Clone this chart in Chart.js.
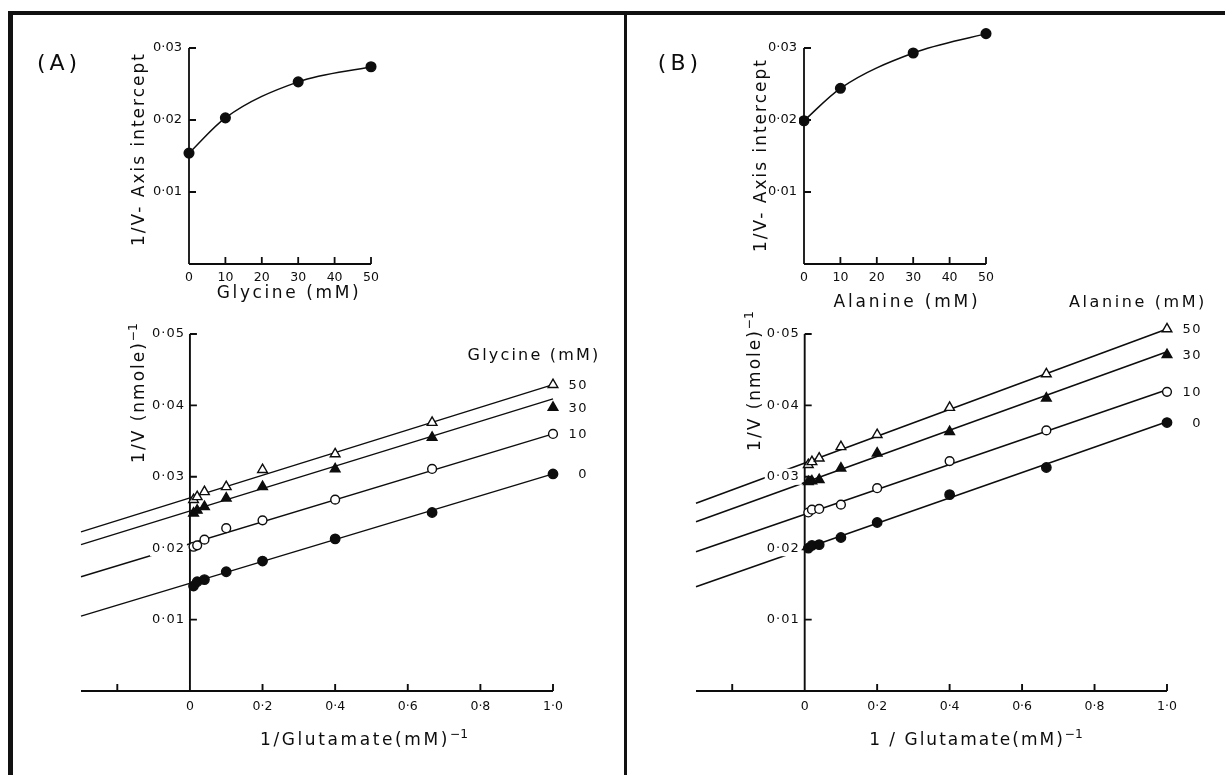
<!DOCTYPE html>
<html lang="en">
<head>
<meta charset="UTF-8">
<title>Glutamate kinetics with glycine and alanine</title>
<script src="https://cdn.jsdelivr.net/npm/chart.js"></script>
<style>
  body { margin: 0; background: #fff; }
  #page { position: relative; width: 1225px; height: 775px; overflow: hidden; background: #fff; }
  canvas { position: absolute; left: 0; top: 0; }
  .rule { position: absolute; background: #111; }
  .t { position: absolute; white-space: nowrap; transform: translate(-50%, -50%); font-family: "DejaVu Sans", sans-serif; color: #0d0d0d; line-height: 1; }
  .rot { transform: translate(-50%, -50%) rotate(-90deg); }
  sup { font-size: 0.72em; vertical-align: 0.6em; letter-spacing: 0; }
</style>
</head>
<body>
<div id="page">
  <!-- frame -->
  <div class="rule" style="left:8px; top:11px; width:1217px; height:4px;"></div>
  <div class="rule" style="left:8px; top:11px; width:5px; height:764px;"></div>
  <div class="rule" style="left:624px; top:11px; width:3px; height:764px;"></div>

  <canvas id="insetA" width="1225" height="775"></canvas>
  <canvas id="mainA" width="1225" height="775"></canvas>
  <canvas id="insetB" width="1225" height="775"></canvas>
  <canvas id="mainB" width="1225" height="775"></canvas>

  <!-- panel A text -->
  <div class="t" style="left:59px; top:63px; font-size:22px; letter-spacing:4px;">(A)</div>
  <div class="t rot" style="left:138px; top:149px; font-size:17px; letter-spacing:2px;">1/V- Axis intercept</div>
  <div class="t" style="left:289px; top:292px; font-size:17px; letter-spacing:2.6px;">Glycine (mM)</div>
  <div class="t rot" style="left:137px; top:393px; font-size:17px; letter-spacing:2px;">1/V (nmole)<sup>−1</sup></div>
  <div class="t" style="left:534px; top:355px; font-size:16px; letter-spacing:2.2px;">Glycine (mM)</div>
  <div class="t" style="left:364px; top:738px; font-size:17px; letter-spacing:2.6px;">1/Glutamate(mM)<sup>−1</sup></div>

  <!-- panel B text -->
  <div class="t" style="left:680px; top:63px; font-size:22px; letter-spacing:4px;">(B)</div>
  <div class="t rot" style="left:760px; top:155px; font-size:17px; letter-spacing:2px;">1/V- Axis intercept</div>
  <div class="t" style="left:907px; top:301px; font-size:17px; letter-spacing:2.8px;">Alanine (mM)</div>
  <div class="t rot" style="left:753px; top:381px; font-size:17px; letter-spacing:2px;">1/V (nmole)<sup>−1</sup></div>
  <div class="t" style="left:1138px; top:302px; font-size:16px; letter-spacing:2.6px;">Alanine (mM)</div>
  <div class="t" style="left:976px; top:738px; font-size:17px; letter-spacing:2px;">1 / Glutamate(mM)<sup>−1</sup></div>
</div>

<script>
// 1/[glutamate] values, shared by both panels
const invGlu = [0.01, 0.02, 0.04, 0.1, 0.2, 0.4, 0.667, 1.0];
const inhibitorMM = ['0', '10', '30', '50'];

// panel A: glycine, 1/V values
const glyA0  = [0.0147, 0.0153, 0.0156, 0.0167, 0.0182, 0.0213, 0.0250, 0.0304];
const glyA10 = [0.0202, 0.0204, 0.0212, 0.0228, 0.0239, 0.0268, 0.0311, 0.0360];
const glyA30 = [0.0249, 0.0253, 0.0258, 0.0270, 0.0286, 0.0311, 0.0355, 0.0397];
const glyA50 = [0.0268, 0.0272, 0.0279, 0.0286, 0.0310, 0.0332, 0.0376, 0.0429];
// fitted lines, value at the left end (-0.3) and at 1.0
const fitStartA = [0.0105, 0.0160, 0.0205, 0.0223];
const fitEndA   = [0.0304, 0.0360, 0.0409, 0.0429];

// panel B: alanine, 1/V values
const alaB0  = [0.0200, 0.0204, 0.0205, 0.0215, 0.0236, 0.0275, 0.0313, 0.0376];
const alaB10 = [0.0250, 0.0254, 0.0255, 0.0261, 0.0284, 0.0322, 0.0365, 0.0419];
const alaB30 = [0.0293, 0.0294, 0.0296, 0.0312, 0.0333, 0.0363, 0.0410, 0.0471];
const alaB50 = [0.0317, 0.0321, 0.0326, 0.0342, 0.0359, 0.0397, 0.0444, 0.0507];
const fitStartB = [0.0146, 0.0195, 0.0237, 0.0263];
const fitEndB   = [0.0377, 0.0422, 0.0475, 0.0507];
const fitX = [-0.3, 1.0];

// insets: 1/V axis intercept vs inhibitor
const insetConc = [0, 10, 30, 50];
const interceptA = [0.0154, 0.0203, 0.0253, 0.0274];
const interceptB = [0.0199, 0.0244, 0.0293, 0.0320];

// ticks
const mainXTicks  = [-0.2, 0, 0.2, 0.4, 0.6, 0.8, 1.0];
const mainXLabels = ['', '0', '0·2', '0·4', '0·6', '0·8', '1·0'];
const mainYTicks  = [0.01, 0.02, 0.03, 0.04, 0.05];
const mainYLabels = ['0·01', '0·02', '0·03', '0·04', '0·05'];
const insetXTicks  = [0, 10, 20, 30, 40, 50];
const insetXLabels = ['0', '10', '20', '30', '40', '50'];
const insetYTicks  = [0.01, 0.02, 0.03];
const insetYLabels = ['0·01', '0·02', '0·03'];

const INK = '#0d0d0d';

// axes with inward ticks, drawn from the chart's own scales
const axesPlugin = {
  id: 'axes',
  beforeDatasetsDraw(chart, args, o) {
    const ctx = chart.ctx, xs = chart.scales.x, ys = chart.scales.y, area = chart.chartArea;
    const x0 = xs.getPixelForValue(0), y0 = ys.getPixelForValue(0);
    const yTop = ys.getPixelForValue(o.yTop);
    ctx.save();
    ctx.strokeStyle = INK;
    ctx.lineWidth = o.width;
    ctx.beginPath();
    ctx.moveTo(area.left, y0); ctx.lineTo(area.right, y0);
    ctx.moveTo(x0, y0); ctx.lineTo(x0, yTop);
    o.xTicks.forEach(v => {
      const px = xs.getPixelForValue(v);
      ctx.moveTo(px, y0); ctx.lineTo(px, y0 - o.tick);
    });
    o.yTicks.forEach(v => {
      const py = ys.getPixelForValue(v);
      ctx.moveTo(x0, py); ctx.lineTo(x0 + o.tick, py);
    });
    ctx.stroke();
    ctx.restore();
  },
  afterDatasetsDraw(chart, args, o) {
    const ctx = chart.ctx, xs = chart.scales.x, ys = chart.scales.y;
    const x0 = xs.getPixelForValue(0), y0 = ys.getPixelForValue(0);
    ctx.save();
    ctx.textBaseline = 'middle';
    ctx.fillStyle = INK;
    ctx.font = o.xFont;
    ctx.textAlign = 'center';
    o.xTicks.forEach((v, i) => {
      if (o.xLabels[i]) ctx.fillText(o.xLabels[i], xs.getPixelForValue(v), y0 + o.xGap);
    });
    ctx.font = o.yFont;
    ctx.letterSpacing = o.ySpacing;
    ctx.textAlign = 'right';
    o.yTicks.forEach((v, i) => {
      const py = ys.getPixelForValue(v);
      const w = ctx.measureText(o.yLabels[i]).width;
      ctx.fillStyle = '#fff';
      ctx.fillRect(x0 - o.yGap - w - 2, py - 8, w + 4, 16);
      ctx.fillStyle = INK;
      ctx.fillText(o.yLabels[i], x0 - o.yGap, py);
    });
    // concentration labels right of the last point of each series
    ctx.font = '13px "DejaVu Sans"';
    ctx.letterSpacing = '1.5px';
    chart.data.datasets.forEach((ds, i) => {
      if (!ds.seriesLabel) return;
      const pts = chart.getDatasetMeta(i).data;
      const last = pts[pts.length - 1];
      ctx.fillText(ds.seriesLabel, xs.getPixelForValue(1.0) + o.seriesDx, last.y + 1);
    });
    ctx.restore();
  }
};

function makeChart(id, area, xRange, yRange, datasets, axes) {
  return new Chart(document.getElementById(id), {
    type: 'scatter',
    data: { datasets: datasets },
    options: {
      responsive: false,
      animation: false,
      events: [],
      layout: { padding: { left: area[0], top: area[1], right: 1225 - area[2], bottom: 775 - area[3] } },
      scales: {
        x: { type: 'linear', display: false, min: xRange[0], max: xRange[1] },
        y: { type: 'linear', display: false, min: yRange[0], max: yRange[1] }
      },
      plugins: { legend: { display: false }, tooltip: { enabled: false }, axes: axes }
    },
    plugins: [axesPlugin]
  });
}

const markerStyle = ['circle', 'circle', 'triangle', 'triangle'];
const markerFill = [INK, '#fff', INK, '#fff'];
const markerSize = [4.7, 4.4, 5.6, 5.6];

function mainDatasets(series, fitStart, fitEnd, lineWidth) {
  const sets = [];
  series.forEach((vals, s) => {
    sets.push({
      data: invGlu.map((x, i) => ({ x: x, y: vals[i] })),
      seriesLabel: inhibitorMM[s],
      pointStyle: markerStyle[s],
      pointRadius: markerSize[s],
      pointBackgroundColor: markerFill[s],
      pointBorderColor: INK,
      pointBorderWidth: 1.4,
      clip: false,
      order: 0
    });
    sets.push({
      data: fitX.map((x, i) => ({ x: x, y: i === 0 ? fitStart[s] : fitEnd[s] })),
      showLine: true,
      borderColor: INK,
      borderWidth: lineWidth,
      pointRadius: 0,
      clip: false,
      order: 1
    });
  });
  return sets;
}

function insetDataset(vals) {
  return [{
    type: 'line',
    data: insetConc.map((x, i) => ({ x: x, y: vals[i] })),
    borderColor: INK,
    borderWidth: 1.5,
    cubicInterpolationMode: 'monotone',
    pointRadius: 4.8,
    pointBackgroundColor: INK,
    pointBorderColor: INK,
    clip: false
  }];
}

const mainAxes = {
  xTicks: mainXTicks, xLabels: mainXLabels, yTicks: mainYTicks, yLabels: mainYLabels, yTop: 0.05,
  tick: 7, width: 1.9, xGap: 16, yGap: 5, seriesDx: 35,
  xFont: '12.5px "DejaVu Sans"', yFont: '13px "DejaVu Sans"', ySpacing: '1px'
};
const insetAxes = {
  xTicks: insetXTicks, xLabels: insetXLabels, yTicks: insetYTicks, yLabels: insetYLabels, yTop: 0.03,
  tick: 7, width: 1.8, xGap: 14, yGap: 7, seriesDx: 0,
  xFont: '12.5px "DejaVu Sans"', yFont: '13px "DejaVu Sans"', ySpacing: '0px'
};

// inset y range runs a little past the top tick so the last point is not cut off
makeChart('insetA', [189, 19.2, 371, 264], [0, 50], [0, 0.034], insetDataset(interceptA), insetAxes);
makeChart('insetB', [804, 19.2, 986, 264], [0, 50], [0, 0.034], insetDataset(interceptB), insetAxes);
makeChart('mainA', [81, 334, 553, 691], [-0.3, 1.0], [0, 0.05],
  mainDatasets([glyA0, glyA10, glyA30, glyA50], fitStartA, fitEndA, 1.35), mainAxes);
makeChart('mainB', [696, 334, 1167, 691], [-0.3, 1.0], [0, 0.05],
  mainDatasets([alaB0, alaB10, alaB30, alaB50], fitStartB, fitEndB, 1.6), mainAxes);
</script>
</body>
</html>
